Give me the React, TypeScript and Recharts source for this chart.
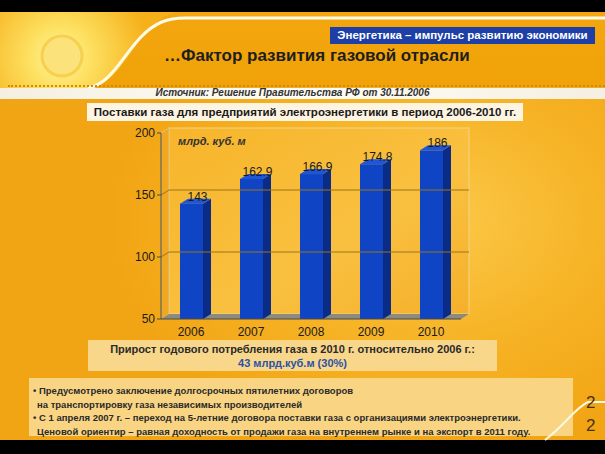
import React from "react";
import { BarChart, Bar, XAxis, YAxis, ReferenceArea, ReferenceLine, LabelList } from "recharts";

// Поставки газа, млрд. куб. м
const years = ["2006", "2007", "2008", "2009", "2010"];
const supply = [143, 162.9, 166.9, 174.8, 186];
const yTicks = [50, 100, 150, 200];

const data = years.map((year, i) => ({ year, supply: supply[i] }));

const DX = 8; // 3D depth
const DY = 5;
const FONT = "'Liberation Sans', Arial, sans-serif";

const Bar3D = (props: any) => {
  const { x, y, width, height } = props;
  if (height <= 0) return null;
  return (
    <g>
      <polygon
        points={`${x + width},${y} ${x + width + DX},${y - DY} ${x + width + DX},${y + height - DY} ${x + width},${y + height}`}
        fill="#0a2b86"
      />
      <polygon
        points={`${x},${y} ${x + DX},${y - DY} ${x + width + DX},${y - DY} ${x + width},${y}`}
        fill="#1f56d6"
      />
      <rect x={x} y={y} width={width} height={height} fill="#0f44c4" />
    </g>
  );
};

const Walls = (props: any) => {
  const { x, y, width, height } = props;
  const b = y + height;
  return (
    <g>
      <defs>
        <linearGradient id="wall" x1="0" y1="0" x2="1" y2="1">
          <stop offset="0%" stopColor="#f7b52a" />
          <stop offset="60%" stopColor="#f9c040" />
          <stop offset="100%" stopColor="#f5b02a" />
        </linearGradient>
      </defs>
      <rect x={x + DX} y={y - DY} width={width} height={height} fill="url(#wall)" stroke="#f3d48a" strokeWidth={1} />
      <polygon
        points={`${x},${y} ${x + DX},${y - DY} ${x + DX},${b - DY} ${x},${b}`}
        fill="#f0a820"
        stroke="#e9c070"
        strokeWidth={1}
      />
      <polygon
        points={`${x},${b} ${x + DX},${b - DY} ${x + width + DX},${b - DY} ${x + width},${b}`}
        fill="#8d8a7e"
      />
    </g>
  );
};

const WallGridLine = (props: any) => {
  const { x1, y1, x2 } = props;
  return (
    <polyline
      points={`${x1},${y1} ${x1 + DX},${y1 - DY} ${x2 + DX},${y1 - DY}`}
      fill="none"
      stroke="#9c7418"
      strokeWidth={1}
    />
  );
};

const ValueLabel = (props: any) => {
  const { x, y, width, value } = props;
  return (
    <text x={x + width / 2 + 6} y={y - 3} textAnchor="middle" fontSize={12} fill="#1a1a1a" fontFamily={FONT}>
      {value}
    </text>
  );
};

const box: React.CSSProperties = { position: "absolute", boxSizing: "border-box" };

export default function App() {
  return (
    <div
      style={{
        position: "absolute",
        left: 0,
        top: 0,
        width: 605,
        height: 454,
        overflow: "hidden",
        fontFamily: FONT,
        background: "radial-gradient(ellipse 320px 230px at 430px 220px, #fbc94a 0%, #f6b325 55%, #f2a514 100%)",
      }}
    >
      {/* top / bottom black bands */}
      <div style={{ ...box, left: 0, top: 0, width: 605, height: 12, background: "#000" }} />
      <div style={{ ...box, left: 0, top: 440, width: 605, height: 14, background: "#000" }} />

      {/* header */}
      <div
        style={{
          ...box,
          left: 0,
          top: 12,
          width: 605,
          height: 75,
          background: "linear-gradient(180deg, #f3a60e 0%, #f0a208 100%)",
        }}
      />
      <svg style={{ position: "absolute", left: 0, top: 12 }} width={605} height={76}>
        <defs>
          <radialGradient id="sun" cx="60" cy="45" r="90" gradientUnits="userSpaceOnUse">
            <stop offset="0%" stopColor="#fff5a0" />
            <stop offset="35%" stopColor="#fde060" />
            <stop offset="100%" stopColor="#f6b01a" />
          </radialGradient>
        </defs>
        <path d="M0,0 L175,0 C150,8 140,30 120,55 C110,68 100,74 90,76 L0,76 Z" fill="url(#sun)" />
        <circle cx="62" cy="44" r="20" fill="#fbe27a" stroke="#f7d050" strokeWidth={3} />
        <path d="M88,76 C110,72 120,48 140,26 C155,10 168,6 185,6 L605,6" fill="none" stroke="#fffbe8" strokeWidth={3} />
      </svg>
      <div
        style={{
          ...box,
          left: 330,
          top: 27,
          width: 265,
          height: 17,
          background: "#1d3fa6",
          color: "#fff",
          fontWeight: 700,
          fontSize: 11.5,
          lineHeight: "17px",
          textAlign: "center",
        }}
      >
        Энергетика – импульс развитию экономики
      </div>
      <div style={{ ...box, left: 164, top: 46, fontSize: 17, fontWeight: 700, color: "#1e1e1e", whiteSpace: "nowrap" }}>
        …Фактор развития газовой отрасли
      </div>

      {/* dotted line + source strip */}
      <div style={{ ...box, left: 8, top: 85, width: 597, height: 3, borderTop: "2px dotted #d08a10" }} />
      <div
        style={{
          ...box,
          left: 0,
          top: 88,
          width: 605,
          height: 11,
          background: "linear-gradient(90deg, #f4efe0 0%, #fffdf6 50%, #f4efe0 100%)",
        }}
      />
      <div
        style={{
          ...box,
          left: 0,
          top: 86,
          width: 585,
          textAlign: "center",
          fontSize: 10,
          fontStyle: "italic",
          fontWeight: 700,
          color: "#333",
          lineHeight: "14px",
        }}
      >
        Источник: Решение Правительства РФ от 30.11.2006
      </div>

      {/* chart title */}
      <div
        style={{
          ...box,
          left: 87,
          top: 103,
          width: 436,
          height: 18,
          background: "#fdf4e2",
          fontSize: 11.5,
          fontWeight: 700,
          color: "#1a1a1a",
          lineHeight: "18px",
          textAlign: "center",
          whiteSpace: "nowrap",
        }}
      >
        Поставки газа для предприятий электроэнергетики в период 2006-2010 гг.
      </div>

      {/* chart */}
      <div style={{ position: "absolute", left: 0, top: 0 }}>
        <BarChart
          width={605}
          height={454}
          data={data}
          margin={{ top: 133, right: 144, bottom: 105, left: 131 }}
          barSize={23}
        >
          <ReferenceArea y1={50} y2={200} shape={<Walls />} ifOverflow="visible" />
          <ReferenceLine y={150} shape={<WallGridLine />} />
          <ReferenceLine y={100} shape={<WallGridLine />} />
          <XAxis
            dataKey="year"
            height={30}
            axisLine={{ stroke: "#4a4a4a" }}
            tickLine={false}
            tick={{ fontSize: 12, fill: "#1a1a1a", fontFamily: FONT }}
            tickMargin={2}
          />
          <YAxis
            width={30}
            domain={[50, 200]}
            ticks={yTicks}
            allowDataOverflow
            axisLine={{ stroke: "#4a4a4a" }}
            tickLine={{ stroke: "#4a4a4a" }}
            tickSize={4}
            tick={{ fontSize: 12, fill: "#1a1a1a", fontFamily: FONT }}
          />
          <Bar dataKey="supply" shape={<Bar3D />} isAnimationActive={false}>
            <LabelList dataKey="supply" content={<ValueLabel />} />
          </Bar>
        </BarChart>
      </div>
      <div style={{ ...box, left: 178, top: 135, fontSize: 11, fontWeight: 700, fontStyle: "italic", color: "#333" }}>
        млрд. куб. м
      </div>

      {/* growth box */}
      <div
        style={{
          ...box,
          left: 88,
          top: 340,
          width: 409,
          height: 31,
          background: "#f8d68a",
          textAlign: "center",
          fontSize: 11,
          fontWeight: 700,
          lineHeight: "14px",
          paddingTop: 2,
        }}
      >
        <div style={{ color: "#2a2a2a" }}>Прирост годового потребления газа в 2010 г. относительно 2006 г.:</div>
        <div style={{ color: "#2a52a8" }}>43 млрд.куб.м (30%)</div>
      </div>

      {/* notes box */}
      <div
        style={{
          ...box,
          left: 29,
          top: 378,
          width: 544,
          height: 58,
          background: "#f9d583",
          fontSize: 9.5,
          fontWeight: 700,
          color: "#2a2a2a",
          lineHeight: "13.5px",
          paddingTop: 6,
          paddingLeft: 4,
          whiteSpace: "nowrap",
        }}
      >
        <div>• Предусмотрено заключение долгосрочных пятилетних договоров</div>
        <div style={{ paddingLeft: 4 }}>на транспортировку газа независимых производителей</div>
        <div>• С 1 апреля 2007 г. – переход на 5-летние договора поставки газа с организациями электроэнергетики.</div>
        <div style={{ paddingLeft: 4 }}>Ценовой ориентир – равная доходность от продажи газа на внутреннем рынке и на экспорт в 2011 году.</div>
      </div>

      {/* page number + swoosh */}
      <svg style={{ position: "absolute", left: 0, top: 0 }} width={605} height={454}>
        <path d="M545,440 C565,425 575,408 588,402 L605,402" fill="none" stroke="#fff8e0" strokeWidth={2} />
      </svg>
      <div style={{ ...box, left: 586, top: 393, fontSize: 17, color: "#4a3010" }}>2</div>
      <div style={{ ...box, left: 586, top: 416, fontSize: 17, color: "#4a3010" }}>2</div>
    </div>
  );
}
